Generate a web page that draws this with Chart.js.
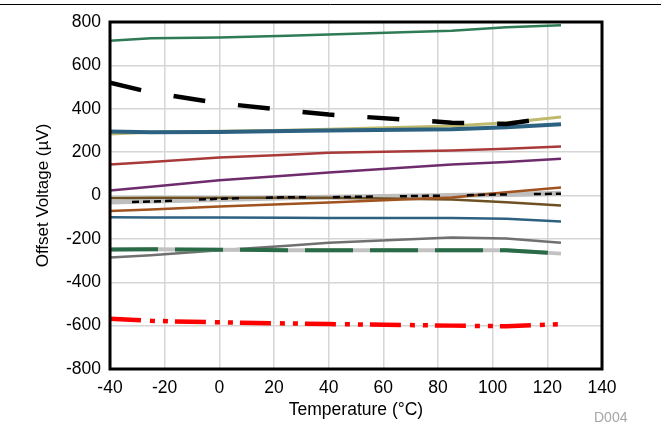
<!DOCTYPE html>
<html>
<head>
<meta charset="utf-8">
<script src="https://cdn.jsdelivr.net/npm/chart.js@4/dist/chart.umd.min.js"></script>
<style>
  html, body { margin: 0; padding: 0; background: #ffffff; }
  #wrap { width: 661px; height: 422px; position: relative; }
</style>
</head>
<body>
<div id="wrap"><canvas id="c" width="661" height="422"></canvas></div>
<script>
// ---- Data ----
const temperatures = [-40, -25, 0, 25, 40, 85, 105, 125];

const greenTop      = [714, 725, 729, 737, 742, 760, 776, 785];
const blackDashTop  = [520, 475, 426, 392, 373, 336, 330, 366];
const oliveLine     = [283, 292, 296, 301, 305, 320, 335, 362];
const blueThick     = [295, 292, 293, 297, 300, 305, 315, 328];
const redBrown      = [143, 155, 175, 188, 197, 208, 215, 226];
const purpleLine    = [23, 40, 70, 92, 106, 143, 155, 170];
const lightGrayMid  = [-30, -25, -18, -10, -8, 0, 5, 10];
const blackDashMid  = [-32, -28, -15, -8, -8, 0, 5, 8];
const darkOlive     = [-12, -10, -10, -10, -10, -19, -31, -46];
const siennaLine    = [-72, -64, -51, -39, -32, -9, 15, 37];
const blueThin      = [-100, -101, -102, -103, -104, -104, -107, -120];
const darkGray      = [-286, -275, -253, -232, -218, -194, -198, -218];
const grayUnder     = [-249, -248, -250, -252, -252, -253, -253, -268];
const greenDash     = [-249, -248, -250, -252, -252, -253, -253, -268];
const redDashDot    = [-568, -578, -585, -590, -593, -600, -603, -593];

const xTickMin = -40, xTickMax = 140, xStep = 20;
const yTickMin = -800, yTickMax = 800, yStep = 200;

const xTitle = 'Temperature (°C)';
const yTitle = 'Offset Voltage (µV)';
const figureId = 'D004';

function toPoints(vals) {
  return vals.map((v, i) => ({ x: temperatures[i], y: v }));
}

function ds(vals, color, width, dash, dashOffset) {
  return {
    data: toPoints(vals),
    borderColor: color,
    backgroundColor: color,
    borderWidth: width,
    borderDash: dash || [],
    borderDashOffset: dashOffset || 0,
    pointRadius: 0,
    tension: 0,
    fill: false
  };
}

// listed bottom-most first; 'order' makes later entries draw on top
const datasets = [
  ds(redDashDot, '#FF0000', 4.5, [31, 9, 5, 8, 5, 7]),
  ds(darkGray, '#707070', 2.5, []),
  ds(grayUnder, '#C2C2C2', 4, []),
  ds(greenDash, '#2A6B47', 4, [48, 17]),
  ds(blueThin, '#2C6181', 2.5, []),
  ds(lightGrayMid, '#BEBEBE', 5, []),
  ds(darkOlive, '#6E5122', 2.5, []),
  ds(siennaLine, '#A0521F', 2.5, []),
  ds(blackDashMid, '#000000', 2.5, [7, 4, 7, 4, 7, 4, 7, 27], 45),
  ds(purpleLine, '#6F2C6C', 2.5, []),
  ds(redBrown, '#A83A3A', 2.5, []),
  ds(oliveLine, '#BFB96E', 3, []),
  ds(blueThick, '#2C6181', 4, []),
  ds(blackDashTop, '#000000', 4.5, [32, 33]),
  ds(greenTop, '#2E7B55', 2.5, [])
];
datasets.forEach((d, i) => { d.order = datasets.length - i; });

const decor = {
  id: 'decor',
  afterDraw(chart) {
    const { ctx, chartArea } = chart;
    ctx.save();
    ctx.strokeStyle = '#000000';
    ctx.lineWidth = 3;
    ctx.strokeRect(chartArea.left, chartArea.top,
                   chartArea.right - chartArea.left, chartArea.bottom - chartArea.top);
    ctx.lineWidth = 1;
    ctx.beginPath();
    ctx.moveTo(0, 4.5);
    ctx.lineTo(chart.width, 4.5);
    ctx.stroke();
    ctx.fillStyle = '#A6A6A6';
    ctx.font = '14px "Liberation Sans", Arial, sans-serif';
    ctx.textAlign = 'left';
    ctx.textBaseline = 'alphabetic';
    ctx.fillText(figureId, 594, 422);
    ctx.restore();
  }
};

const fontFamily = '"Liberation Sans", Arial, Helvetica, sans-serif';

new Chart(document.getElementById('c'), {
  type: 'line',
  data: { datasets },
  plugins: [decor],
  options: {
    responsive: false,
    animation: false,
    devicePixelRatio: 1,
    layout: { padding: { top: 22, right: 59, left: 0, bottom: 0 } },
    plugins: { legend: { display: false }, tooltip: { enabled: false } },
    scales: {
      x: {
        type: 'linear',
        min: xTickMin, max: xTickMax,
        border: { display: false },
        grid: { color: '#D6D6D6', lineWidth: 1.5, drawTicks: false },
        ticks: { stepSize: xStep, color: '#000000', padding: 9,
                 font: { family: fontFamily, size: 17.5 } },
        title: { display: true, text: xTitle, color: '#000000',
                 font: { family: fontFamily, size: 17.5 }, padding: { top: 0, bottom: 1 } },
        afterFit(scale) { scale.height = 53; }
      },
      y: {
        type: 'linear',
        min: yTickMin, max: yTickMax,
        border: { display: false },
        grid: { color: '#D6D6D6', lineWidth: 1.5, drawTicks: false },
        ticks: { stepSize: yStep, color: '#000000', padding: 9,
                 font: { family: fontFamily, size: 17.5 } },
        title: { display: true, text: yTitle, color: '#000000',
                 font: { family: fontFamily, size: 17 }, padding: { top: 33, bottom: 0 } },
        afterFit(scale) { scale.width = 110; }
      }
    }
  }
});
</script>
</body>
</html>
